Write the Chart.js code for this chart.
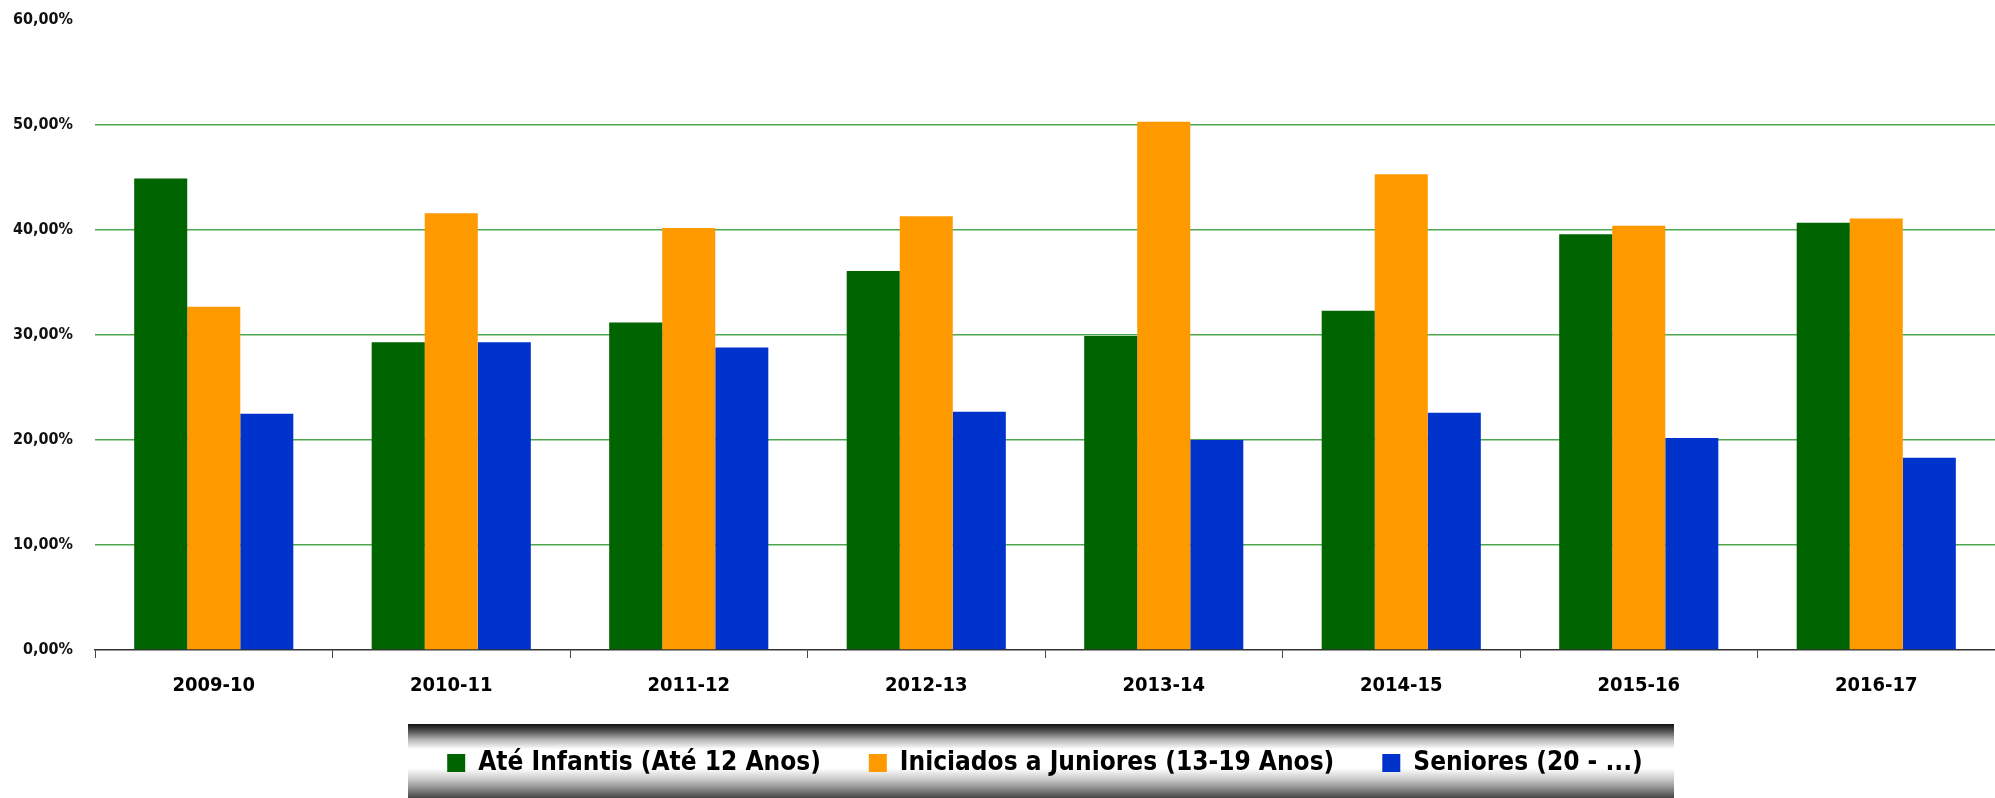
<!DOCTYPE html>
<html>
<head>
<meta charset="utf-8">
<script src="https://cdn.jsdelivr.net/npm/chart.js@4"></script>
<style>
  html, body { margin: 0; padding: 0; background: #fff; }
</style>
</head>
<body>
<canvas id="myChart" width="1995" height="798"></canvas>
<script>
// data (percent)
var seasons = ["2009-10", "2010-11", "2011-12", "2012-13", "2013-14", "2014-15", "2015-16", "2016-17"];
var infantis = [44.9, 29.3, 31.2, 36.1, 29.9, 32.3, 39.6, 40.7];
var juniores = [32.7, 41.6, 40.2, 41.3, 50.3, 45.3, 40.4, 41.1];
var seniores = [22.5, 29.3, 28.8, 22.7, 20.0, 22.6, 20.2, 18.3];
var seriesNames = ["Até Infantis (Até 12 Anos)", "Iniciados a Juniores (13-19 Anos)", "Seniores (20 - ...)"];
var barColors = ["#006400", "#ff9900", "#0033cc"];
var yTickLabels = ["0,00%", "10,00%", "20,00%", "30,00%", "40,00%", "50,00%", "60,00%"];

var fontFam = '"Liberation Sans Narrow", "DejaVu Sans Condensed", "Arial Narrow", sans-serif';

// grey band behind the legend + centre the legend on the plot
const legendBand = {
    id: "legendBand",
    afterLayout: function (chart) {
        chart.legend.left = chart.chartArea.left;
    },
    beforeDraw: function (chart) {
        var ctx = chart.ctx;
        var mid = (chart.chartArea.left + chart.chartArea.right) / 2;
        var top = chart.chartArea.bottom + 74;
        var g = ctx.createLinearGradient(0, top, 0, chart.height);
        g.addColorStop(0, "#111111");
        g.addColorStop(0.1, "#555555");
        g.addColorStop(0.22, "#bbbbbb");
        g.addColorStop(0.34, "#ffffff");
        g.addColorStop(0.6, "#ffffff");
        g.addColorStop(0.74, "#cccccc");
        g.addColorStop(0.88, "#888888");
        g.addColorStop(1, "#444444");
        ctx.save();
        ctx.fillStyle = g;
        ctx.fillRect(mid - 637, top, 1266, chart.height - top);
        ctx.restore();
    }
};

new Chart("myChart", {
    type: "bar",
    data: {
        labels: seasons,
        datasets: [
            { label: seriesNames[0], data: infantis, backgroundColor: barColors[0] },
            { label: seriesNames[1], data: juniores, backgroundColor: barColors[1] },
            { label: seriesNames[2], data: seniores, backgroundColor: barColors[2] }
        ]
    },
    options: {
        responsive: false,
        animation: false,
        devicePixelRatio: 1,
        datasets: { bar: { categoryPercentage: 0.67, barPercentage: 1.0 } },
        layout: { padding: { top: 20, right: 0, bottom: 12, left: 0 } },
        plugins: {
            tooltip: { enabled: false },
            legend: {
                position: "bottom",
                labels: {
                    boxWidth: 18,
                    boxHeight: 18,
                    padding: 48,
                    color: "#000",
                    font: { family: fontFam, size: 26, weight: "bold" }
                }
            }
        },
        scales: {
            x: {
                border: { display: true, color: "#333", width: 1.5 },
                grid: { display: true, drawOnChartArea: false, drawTicks: true, tickLength: 8, tickColor: "#444", offset: true },
                ticks: { padding: 16, color: "#000", font: { family: fontFam, size: 20, weight: "bold" } },
                afterFit: function (scale) { scale.height = 52; }
            },
            y: {
                min: 0,
                max: 60,
                border: { display: false },
                grid: {
                    drawTicks: false,
                    lineWidth: 1.5,
                    color: function (c) {
                        if (c.tick && (c.tick.value === 0 || c.tick.value === 60)) return "rgba(0,0,0,0)";
                        return "#4fa84f";
                    }
                },
                ticks: {
                    stepSize: 10,
                    padding: 22,
                    color: "#111",
                    font: { family: fontFam, size: 16, weight: "bold" },
                    callback: function (v) { return yTickLabels[Math.round(v / 10)]; }
                },
                afterFit: function (scale) {
                    scale.width = 95;
                    scale.paddingTop = 0;
                }
            }
        }
    },
    plugins: [legendBand]
});
</script>
</body>
</html>
